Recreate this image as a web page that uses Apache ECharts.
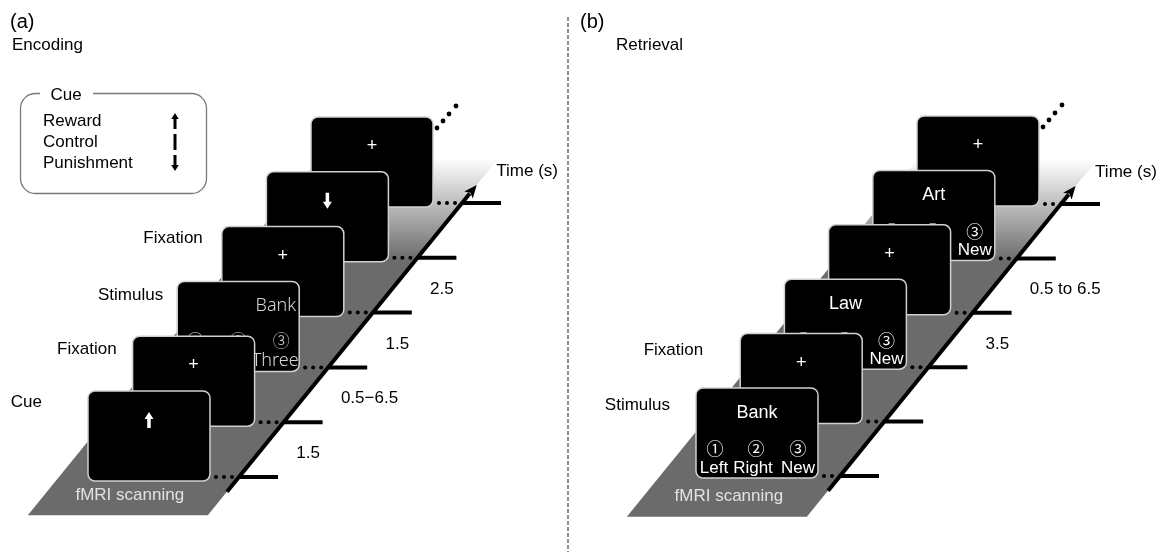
<!DOCTYPE html>
<html>
<head>
<meta charset="utf-8">
<script src="https://cdn.jsdelivr.net/npm/echarts@6.0.0/dist/echarts.min.js"></script>
<style>
html, body { margin: 0; padding: 0; background: #fff; }
#main { width: 1160px; height: 552px; }
</style>
</head>
<body>
<div id="main"></div>
<script>
// ---------------- data ----------------
const panelLetters = ['(a)', '(b)'];
const panelTitles = ['Encoding', 'Retrieval'];
const axisName = 'Time (s)';
const scannerLabel = 'fMRI scanning';

const cueTypes = ['Reward', 'Control', 'Punishment'];
const cueSymbols = ['up', 'bar', 'down'];
const cueBoxTitle = 'Cue';

// encoding sequence (screen order along the time axis)
const encodingScreens = ['up', 'fixation', 'stimulus', 'fixation', 'down', 'fixation'];
const encodingStageLabels = ['Cue', 'Fixation', 'Stimulus', 'Fixation'];
const encodingDurationSteps = [0, 1, 2, 3];
const encodingDurations = ['1.5', '0.5\u22126.5', '1.5', '2.5'];
const encodingWords = ['', '', 'Bank', '', '', ''];
const encodingOptions = ['One', 'Two', 'Three'];

// retrieval sequence
const retrievalScreens = ['stimulus', 'fixation', 'stimulus', 'fixation', 'stimulus', 'fixation'];
const retrievalStageLabels = ['Stimulus', 'Fixation'];
const retrievalDurationSteps = [2, 3];
const retrievalDurations = ['3.5', '0.5 to 6.5'];
const retrievalWords = ['Bank', '', 'Law', '', 'Art', ''];
const retrievalOptions = ['Left', 'Right', 'New'];

const optionNumbers = ['\u2460', '\u2461', '\u2462'];

// ---------------- layout / style ----------------
const FONT = '"Liberation Sans", Arial, Helvetica, sans-serif';
const NUMFONT = '"Noto Sans CJK JP", "DejaVu Sans", sans-serif';
const SW = 122, SH = 90;
const TICK_LEN = 39;
const GRAY = '#6b6b6b';

const screens = [encodingScreens, retrievalScreens];
const words = [encodingWords, retrievalWords];
const options = [encodingOptions, retrievalOptions];
const stageLabels = [encodingStageLabels, retrievalStageLabels];
const durSteps = [encodingDurationSteps, retrievalDurationSteps];
const durLabels = [encodingDurations, retrievalDurations];

const layout = [
  { grid: { left: 88, top: 117, width: 223, height: 274 }, arrowOff: [151, 86], bandBottom: -0.7,
    labelDx: [46, 16, 14, 19], labelDy: [11, 13, 14, 12] },
  { grid: { left: 696, top: 116, width: 221, height: 272 }, arrowOff: [144, 88], bandBottom: -0.75,
    labelDx: [26, 37], labelDy: [17, 17] }
];

function P(api, p, s) {
  const c = api.coord([s, s]);
  return [c[0] + layout[p].arrowOff[0], c[1] + layout[p].arrowOff[1]];
}

function arrowPts(cx, y0, y1, up, shaftW, headW, headH) {
  const h = shaftW / 2, hw = headW / 2;
  if (up) return [[cx, y0], [cx + hw, y0 + headH], [cx + h, y0 + headH], [cx + h, y1], [cx - h, y1], [cx - h, y0 + headH], [cx - hw, y0 + headH]];
  return [[cx, y1], [cx + hw, y1 - headH], [cx + h, y1 - headH], [cx + h, y0], [cx - h, y0], [cx - h, y1 - headH], [cx - hw, y1 - headH]];
}

function txt(x, y, text, o) {
  o = o || {};
  return {
    type: 'text', x: x, y: y, z2: o.z2 || 0,
    style: {
      text: text, fill: o.fill || '#000', fontSize: o.size || 17,
      fontFamily: o.family || FONT, fontWeight: o.weight || 'normal',
      align: o.align || 'center', verticalAlign: 'middle'
    }
  };
}

function renderBand(p, api) {
  const sb = layout[p].bandBottom, st = 5.82;
  const b = P(api, p, sb), t = P(api, p, st);
  const pts = [[b[0] - 180, b[1]], b, t, [t[0] - 180, t[1]]];
  return {
    type: 'group', children: [
      { type: 'polygon', shape: { points: pts },
        style: { fill: { type: 'linear', x: 0, y: t[1], x2: 0, y2: t[1] + 102, global: true,
          colorStops: [{ offset: 0, color: '#ffffff' }, { offset: 1, color: GRAY }] } } },
      txt(b[0] - 180 + 102, b[1] - 20, scannerLabel, { fill: '#e2e2e2', size: 17, z2: 2 })
    ]
  };
}

function renderScreen(p, api) {
  const i = api.value(0);
  const c = api.coord([i, i]);
  const L = c[0], T = c[1];
  const zb = (6 - i) * 10;
  const ch = [{ type: 'rect', z2: zb, shape: { x: L, y: T, width: SW, height: SH, r: 7 },
    style: { fill: '#000', stroke: '#d0d0d0', lineWidth: 1.5 } }];
  const kind = screens[p][i];
  if (kind === 'fixation') {
    ch.push(txt(L + 61, T + 29, '+', { fill: '#fff', size: 18, z2: zb + 1 }));
  } else if (kind === 'up' || kind === 'down') {
    ch.push({ type: 'polygon', z2: zb + 1, shape: { points: arrowPts(L + 61, T + 21, T + 37, kind === 'up', 3.5, 9, 7) },
      style: { fill: '#fff' } });
  } else if (kind === 'stimulus') {
    if (p === 0) {
      const col = '#d6d6d6';
      ch.push(txt(L + 119, T + 24, words[p][i], { fill: col, size: 18, align: 'right', family: '"Noto Sans", sans-serif', weight: 300, z2: zb + 1 }));
      const nx = [18, 61, 104];
      options[p].forEach((w, k) => {
        ch.push(txt(L + nx[k], T + 59, optionNumbers[k], { fill: col, size: 17, family: NUMFONT, weight: 300, z2: zb + 1 }));
        ch.push(txt(L + nx[k] - 6, T + 79, w, { fill: col, size: 18, family: '"Noto Sans", sans-serif', weight: 300, z2: zb + 1 }));
      });
    } else {
      ch.push(txt(L + 61, T + 25, words[p][i], { fill: '#fff', size: 18, z2: zb + 1 }));
      const nx = [19, 60, 102];
      const wx = [18, 57, 102];
      options[p].forEach((w, k) => {
        ch.push(txt(L + nx[k], T + 61, optionNumbers[k], { fill: '#fff', size: 17, family: NUMFONT, z2: zb + 1 }));
        ch.push(txt(L + wx[k], T + 80, w, { fill: '#fff', size: 17, z2: zb + 1 }));
      });
    }
  }
  return { type: 'group', children: ch };
}

function renderTick(p, api) {
  const i = api.value(0);
  const c = api.coord([i, i]);
  const a = P(api, p, i);
  const ch = [{ type: 'line', shape: { x1: a[0], y1: a[1], x2: a[0] + TICK_LEN, y2: a[1] }, style: { stroke: '#000', lineWidth: 4 } }];
  for (let k = 0; k < 3; k++) {
    ch.push({ type: 'circle', shape: { cx: c[0] + SW + 6 + 8 * k, cy: a[1], r: 2 }, style: { fill: '#000' } });
  }
  if (i === screens[p].length - 1) {
    const R = c[0] + SW, T = c[1];
    [[4, 11], [10, 4], [16, -3], [23, -11]].forEach(d => {
      ch.push({ type: 'circle', shape: { cx: R + d[0], cy: T + d[1], r: 2.4 }, style: { fill: '#000' } });
    });
  }
  return { type: 'group', children: ch };
}

function renderAxisArrow(p, api) {
  const s0 = P(api, p, -0.27), tip = P(api, p, 5.33);
  const dx = tip[0] - s0[0], dy = tip[1] - s0[1];
  const len = Math.sqrt(dx * dx + dy * dy);
  const ux = dx / len, uy = dy / len;
  const nx = -uy, ny = ux;
  const hl = 13, hw = 5.5;
  const bx = tip[0] - ux * hl, by = tip[1] - uy * hl;
  const t = P(api, p, 5.5);
  return {
    type: 'group', children: [
      { type: 'line', shape: { x1: s0[0], y1: s0[1], x2: bx + ux * 2, y2: by + uy * 2 }, style: { stroke: '#000', lineWidth: 4 } },
      { type: 'polygon', shape: { points: [tip, [bx + nx * hw, by + ny * hw], [bx + ux * 3, by + uy * 3], [bx - nx * hw, by - ny * hw]] }, style: { fill: '#000' } },
      txt(t[0] + 12, t[1] - 4, axisName, { align: 'left', size: 17 })
    ]
  };
}

function renderDuration(p, api) {
  const s = api.value(0), k = api.value(2);
  const a = P(api, p, s);
  return txt(a[0] + 35, a[1] + 4, durLabels[p][k], { align: 'left', size: 17 });
}

function renderStage(p, api) {
  const i = api.value(0);
  const c = api.coord([i, i]);
  return txt(c[0] - layout[p].labelDx[i], c[1] + layout[p].labelDy[i], stageLabels[p][i], { align: 'right', size: 17 });
}

const series = [];
[0, 1].forEach(p => {
  const base = { type: 'custom', xAxisIndex: p, yAxisIndex: p, silent: true, animation: false, clip: false };
  series.push(Object.assign({}, base, { z: 1, data: [[0, 0]], renderItem: (pa, api) => renderBand(p, api) }));
  series.push(Object.assign({}, base, { z: 2, data: screens[p].map((k, i) => [i, i]).reverse(), renderItem: (pa, api) => renderScreen(p, api) }));
  series.push(Object.assign({}, base, { z: 3, data: screens[p].map((k, i) => [i, i]), renderItem: (pa, api) => renderTick(p, api) }));
  series.push(Object.assign({}, base, { z: 4, data: [[0, 0]], renderItem: (pa, api) => renderAxisArrow(p, api) }));
  series.push(Object.assign({}, base, { z: 5, data: durSteps[p].map((s, k) => [s + 0.5, s + 0.5, k]), renderItem: (pa, api) => renderDuration(p, api) }));
  series.push(Object.assign({}, base, { z: 5, data: stageLabels[p].map((l, i) => [i, i]), renderItem: (pa, api) => renderStage(p, api) }));
});

// ---------- static annotation graphics (headers, cue legend, divider) ----------
const graphic = [];
const headerX = [10, 580], titleX = [12, 616];
panelLetters.forEach((t, k) => {
  graphic.push({ type: 'text', x: headerX[k], y: 22, style: { text: t, fill: '#000', fontSize: 20, fontFamily: FONT, align: 'left', verticalAlign: 'middle' } });
  graphic.push({ type: 'text', x: titleX[k], y: 45, style: { text: panelTitles[k], fill: '#000', fontSize: 17, fontFamily: FONT, align: 'left', verticalAlign: 'middle' } });
});
graphic.push({ type: 'line', shape: { x1: 568, y1: 17, x2: 568, y2: 552 }, style: { stroke: '#8f8f8f', lineWidth: 2, lineDash: [4, 2] } });
graphic.push({ type: 'rect', shape: { x: 20.5, y: 93.5, width: 186, height: 100, r: 15 }, style: { fill: 'none', stroke: '#7a7a7a', lineWidth: 1.3 } });
graphic.push({ type: 'rect', shape: { x: 40, y: 89, width: 53, height: 9 }, style: { fill: '#fff' } });
graphic.push({ type: 'text', x: 66, y: 95, style: { text: cueBoxTitle, fill: '#000', fontSize: 17, fontFamily: FONT, align: 'center', verticalAlign: 'middle' } });
cueTypes.forEach((c, k) => {
  const y = 121 + 21 * k;
  graphic.push({ type: 'text', x: 43, y: y, style: { text: c, fill: '#000', fontSize: 17, fontFamily: FONT, align: 'left', verticalAlign: 'middle' } });
  const sym = cueSymbols[k];
  if (sym === 'bar') {
    graphic.push({ type: 'rect', shape: { x: 173.5, y: y - 8, width: 3, height: 16 }, style: { fill: '#000' } });
  } else {
    graphic.push({ type: 'polygon', shape: { points: arrowPts(175, y - 8, y + 8, sym === 'up', 3, 7.5, 6) }, style: { fill: '#000' } });
  }
});

const chart = echarts.init(document.getElementById('main'), null, { renderer: 'canvas' });
chart.setOption({
  animation: false,
  backgroundColor: '#fff',
  grid: layout.map(l => Object.assign({ containLabel: false }, l.grid)),
  xAxis: [0, 1].map(p => ({ type: 'value', gridIndex: p, min: 0, max: 5, show: false })),
  yAxis: [0, 1].map(p => ({ type: 'value', gridIndex: p, min: 0, max: 5, show: false })),
  graphic: graphic,
  series: series
});
</script>
</body>
</html>
